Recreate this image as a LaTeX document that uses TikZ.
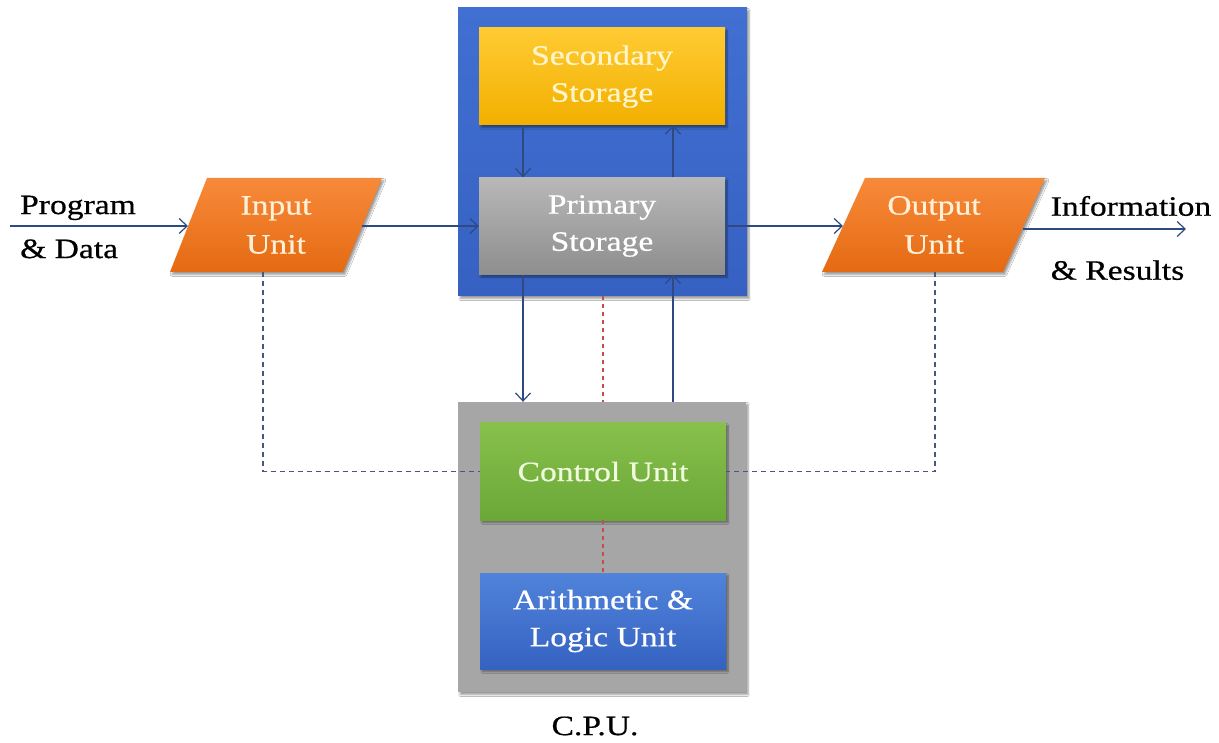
\documentclass[tikz,border=0pt]{standalone}
\usepackage{fontspec}
\setmainfont{Liberation Serif}[FakeStretch=1.2,FakeBold=0.6]
\usetikzlibrary{arrows.meta,shadows.blur}
\definecolor{linec}{HTML}{2F4A80}
\definecolor{dashc}{HTML}{4A5580}
\definecolor{redc}{HTML}{C0504D}
\definecolor{memtop}{HTML}{4170D2}
\definecolor{membot}{HTML}{3661C2}
\definecolor{cpugray}{HTML}{A6A6A6}
\definecolor{goldtop}{HTML}{FFCB33}
\definecolor{goldbot}{HTML}{F2B000}
\definecolor{graytop}{HTML}{B8B8B8}
\definecolor{graybot}{HTML}{8E8E8E}
\definecolor{greentop}{HTML}{88C04C}
\definecolor{greenbot}{HTML}{6AA838}
\definecolor{bluetop}{HTML}{5083DA}
\definecolor{bluebot}{HTML}{3562C2}
\definecolor{orangetop}{HTML}{F78A3A}
\definecolor{orangebot}{HTML}{E56A12}
\definecolor{creamtxt}{HTML}{FFF0D8}
\definecolor{yellowtxt}{HTML}{FFF5C8}
\definecolor{greentxt}{HTML}{F0FADC}
\begin{document}
\begin{tikzpicture}[x=1pt,y=-1pt,
  sh/.style={blur shadow={shadow xshift=2pt,shadow yshift=-2.5pt,shadow blur steps=6,shadow opacity=40}},
  frame/.style={rectangle,inner sep=0pt,minimum width=289pt,minimum height=288pt,sh},
  unitbox/.style={rectangle,inner sep=0pt,minimum width=246pt,minimum height=97pt,align=center,
    font=\fontsize{28}{37}\selectfont,sh},
  ptext/.style={inner sep=0pt,align=center,font=\fontsize{28}{39}\selectfont,text=creamtxt},
  lbl/.style={inner sep=0pt,align=left,font=\fontsize{28}{44}\selectfont,text=black},
  conn/.style={draw=linec,line width=1.2pt,-{Straight Barb[length=8pt,width=15pt,line width=1.2pt]}},
  ctrl/.style={draw=dashc,line width=1.1pt,dash pattern=on 5pt off 4pt},
  reddash/.style={draw=redc,line width=1.3pt,dash pattern=on 4pt off 4pt}]
\useasboundingbox (0,0) rectangle (1219,743);
\fill[white] (0,0) rectangle (1219,743);

% memory block
\node[frame,top color=memtop,bottom color=membot] (mem) at (602.5,152) {};
\node[unitbox,top color=goldtop,bottom color=goldbot,text=yellowtxt] (ss) at (602,76.5) {Secondary\\Storage};
\node[unitbox,top color=graytop,bottom color=graybot,text=white] (ps) at (602,226) {Primary\\Storage};

% CPU block
\node[frame,minimum width=288pt,minimum height=290pt,fill=cpugray] (cpu) at (602,547) {};
\node[unitbox,top color=greentop,bottom color=greenbot,text=greentxt] (cu) at (603,471.5) {Control Unit};
\node[unitbox,minimum height=96pt,top color=bluetop,bottom color=bluebot,text=white] (alu) at (603,621) {Arithmetic \&\\Logic Unit};
\node[inner sep=0pt,font=\fontsize{28}{34}\selectfont] (cpulbl) at (595,726) {C.P.U.};

% input / output units
\path[top color=orangetop,bottom color=orangebot,sh] (207,178) -- (382,178) -- (343,272) -- (170,272) -- cycle;
\node[ptext] (in) at (276,225) {Input\\Unit};
\path[top color=orangetop,bottom color=orangebot,sh] (865,178) -- (1045,178) -- (1003,272) -- (822,272) -- cycle;
\node[ptext] (out) at (934,225) {Output\\Unit};

\coordinate (inW) at (188,226);
\coordinate (inE) at (362,226);
\coordinate (inS) at (263,272);
\coordinate (outW) at (843,226);
\coordinate (outE) at (1023,229);
\coordinate (outS) at (935,272);
\coordinate (pdstart) at (10,226);
\coordinate (resend) at (1186,229);

% labels
\node[lbl] (pd) at (78,227) {Program\\\& Data};
\node[lbl] (ir) at (1131,238) {Information\\[20pt]\& Results};

% data flow
\draw[conn] (pdstart) -- (inW);
\draw[conn] (inE) -- (ps.west);
\draw[conn] (ps.east) -- (outW);
\draw[conn] (outE) -- (resend);
\draw[conn] ([xshift=-79pt]ss.south) -- ([xshift=-79pt]ps.north);
\draw[conn] ([xshift=71pt]ps.north) -- ([xshift=71pt]ss.south);
\draw[conn] ([xshift=-79pt]ps.south) -- ([xshift=-79pt]ps.south |- cpu.north);
\draw[conn] ([xshift=71pt]ps.south |- cpu.north) -- ([xshift=71pt]ps.south);

% control lines
\draw[ctrl] (inS) |- (cu.west);
\draw[ctrl] (outS) |- (cu.east);
\draw[reddash] (cu.north |- mem.south) -- (cu.north |- cpu.north);
\draw[reddash] (cu.south) -- (alu.north);
\end{tikzpicture}
\end{document}
